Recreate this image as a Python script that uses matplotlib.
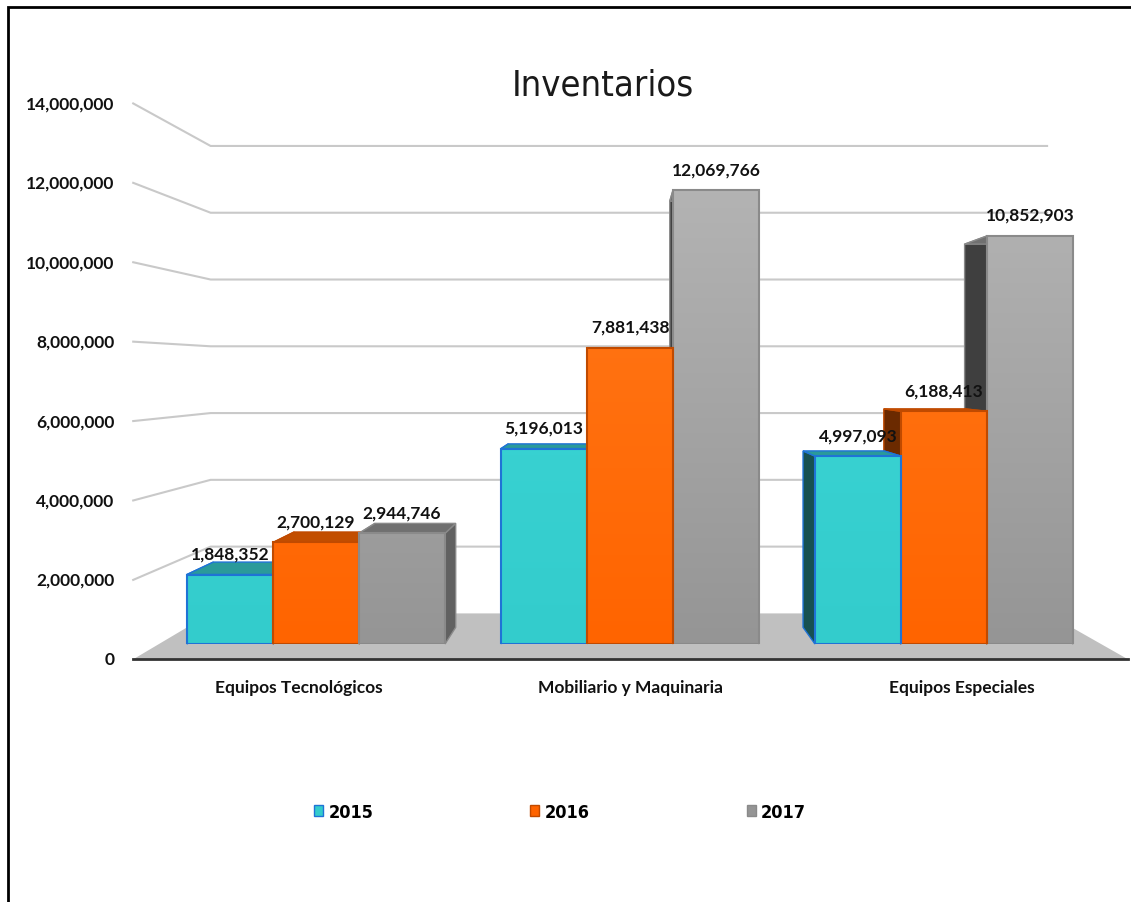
import matplotlib
matplotlib.use('Agg')
import matplotlib.pyplot as plt
import numpy as np
from matplotlib.patches import Polygon, Rectangle, Patch
from matplotlib.lines import Line2D
from matplotlib.transforms import IdentityTransform
from matplotlib.colors import to_rgb

categories = ['Equipos Tecnológicos', 'Mobiliario y Maquinaria', 'Equipos Especiales']
years = ['2015', '2016', '2017']
v2015 = [1848352, 5196013, 4997093]
v2016 = [2700129, 7881438, 6188413]
v2017 = [2944746, 12069766, 10852903]
yticks = [0, 2000000, 4000000, 6000000, 8000000, 10000000, 12000000, 14000000]

series = [v2015, v2016, v2017]
# front gradient (bottom, top at ymax), edge, top face, left side, right side
styles = [
    dict(bot='#33CCCC', top='#40DADA', edge='#1F73D6', lid='#2A9A9A', left='#175151', right='#1E7A7A'),
    dict(bot='#FF6400', top='#FF7C1E', edge='#C04A00', lid='#C24E00', left='#6B2A00', right='#A84300'),
    dict(bot='#959595', top='#B8B8B8', edge='#8A8A8A', lid='#707070', left='#3F3F3F', right='#616161'),
]

LABEL_FONT = ['Lato', 'DejaVu Sans']
NARROW_FONT = ['DejaVu Sans']

W, H = 1131, 903
fig = plt.figure(figsize=(W / 100, H / 100), dpi=100)
ax = fig.add_axes([159 / W, 258 / H, 942 / W, 526.4 / H])
ax.set_xlim(-0.5, 2.5)
ax.set_ylim(0, 14000000)
ax.set_autoscale_on(False)
ax.axis('off')

# simple perspective: scale display points toward a vanishing point
vanish = ax.transAxes.transform((0.489, 0.519))
K_LABEL, K_BACK, K_WALL = 1.056, 0.939, 0.888
ident = IdentityTransform()


def proj(x, v, k):
    p = ax.transData.transform((x, v))
    return vanish + (p - vanish) * k


# floor
floor = [proj(-0.5, 0, K_LABEL), proj(2.5, 0, K_LABEL), proj(2.5, 0, K_WALL), proj(-0.5, 0, K_WALL)]
ax.add_patch(Polygon(floor, closed=True, transform=ident, facecolor='#C0C0C0',
                     edgecolor='none', zorder=1, clip_on=False))
a, b = proj(-0.5, 0, K_LABEL), proj(2.5, 0, K_LABEL)
ax.add_line(Line2D([a[0], b[0]], [a[1], b[1]], transform=ident, color='#333333', lw=2,
                   zorder=2, clip_on=False))

# wall gridlines, connectors and tick labels
for v in yticks:
    p_lab = proj(-0.5, v, K_LABEL)
    p_wl = proj(-0.5, v, K_WALL)
    p_wr = proj(2.5, v, K_WALL)
    if v > 0:
        ax.add_line(Line2D([p_lab[0], p_wl[0], p_wr[0]], [p_lab[1], p_wl[1], p_wr[1]],
                           transform=ident, color='#C9C9C9', lw=1.5, zorder=0.5, clip_on=False))
    ax.annotate(f'{v:,}', xy=p_lab, xycoords='figure pixels', xytext=(-19, 0),
                textcoords='offset pixels', ha='right', va='center',
                fontsize=12.5, fontweight='bold', family=LABEL_FONT, color='#111111')

# category labels on front floor edge
for gi, cat in enumerate(categories):
    ax.annotate(cat, xy=proj(gi, 0, K_LABEL), xycoords='figure pixels', xytext=(0, -28),
                textcoords='offset pixels', ha='center', va='center',
                fontsize=12.5, fontweight='bold', family=LABEL_FONT, color='#111111')

# bars
w = 0.274
bars = []
for gi in range(len(categories)):
    for si in range(3):
        xc = gi + (si - 1) * w
        bars.append((gi, si, xc, series[si][gi]))
bars.sort(key=lambda t: -abs(ax.transData.transform((t[2], 0))[0] - vanish[0]))

for rank, (gi, si, xc, h) in enumerate(bars):
    st = styles[si]
    z = 10 + 3 * rank
    x0, x1 = xc - w / 2, xc + w / 2
    left = [proj(x0, 0, 1), proj(x0, h, 1), proj(x0, h, K_BACK), proj(x0, 0, K_BACK)]
    right = [proj(x1, 0, 1), proj(x1, h, 1), proj(x1, h, K_BACK), proj(x1, 0, K_BACK)]
    lid = [proj(x0, h, 1), proj(x1, h, 1), proj(x1, h, K_BACK), proj(x0, h, K_BACK)]
    for pts, col in ((left, st['left']), (right, st['right']), (lid, st['lid'])):
        ax.add_patch(Polygon(pts, closed=True, transform=ident, facecolor=col,
                             edgecolor=st['edge'], lw=1, zorder=z, clip_on=False))
    front = ax.bar(xc, h, width=w, color=st['bot'], edgecolor='none', zorder=z + 1)[0]
    c0, c1 = np.array(to_rgb(st['bot'])), np.array(to_rgb(st['top']))
    t = np.linspace(0, 1, 256)[:, None]
    grad = (c0 + (c1 - c0) * t)[:, None, :]
    im = ax.imshow(grad, extent=(x0, x1, 0, 14000000), origin='lower', aspect='auto',
                   interpolation='bilinear', zorder=z + 1.5)
    im.set_clip_path(front)
    ax.bar(xc, h, width=w, facecolor='none', edgecolor=st['edge'], lw=1.5, zorder=z + 2)
    ax.annotate(f'{h:,}', xy=(xc, h), xytext=(0, 21), textcoords='offset pixels',
                ha='center', va='center', fontsize=12.5, fontweight='bold',
                family=LABEL_FONT, color='#111111', zorder=60)

# title
fig.text(603 / W, 1 - 86 / H, 'Inventarios', ha='center', va='center',
         fontsize=26, family=NARROW_FONT, fontstretch='condensed', color='#1A1A1A')

# legend
handles = [Patch(facecolor=styles[i]['bot'], edgecolor=styles[i]['edge']) for i in range(3)]
fig.legend(handles, years, loc='center', bbox_to_anchor=(560 / W, 1 - 813 / H), ncol=3,
           frameon=False,
           prop=dict(family=NARROW_FONT, weight='bold', stretch='condensed', size=13),
           handlelength=0.5, handleheight=0.5, handletextpad=0.3, columnspacing=8.7)

# outer frame (cut off at right and bottom)
fig.add_artist(Rectangle((8 / W, -0.05), 1.2, 1.05 - 8 / H, transform=fig.transFigure,
                         fill=False, edgecolor='black', lw=2))

fig.savefig('out.png', dpi=100)
